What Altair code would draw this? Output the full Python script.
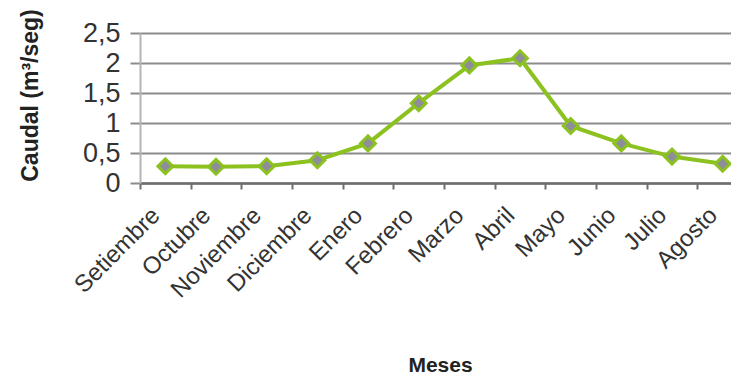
import altair as alt
import pandas as pd

meses = ["Setiembre", "Octubre", "Noviembre", "Diciembre", "Enero", "Febrero",
         "Marzo", "Abril", "Mayo", "Junio", "Julio", "Agosto"]
caudal = [0.28, 0.27, 0.28, 0.38, 0.66, 1.33, 1.96, 2.08, 0.95, 0.66, 0.44, 0.32]
y_ticks = [0, 0.5, 1, 1.5, 2, 2.5]

df = pd.DataFrame({"Meses": meses, "Caudal": caudal})

FONT = "Liberation Sans"

x_enc = alt.X(
    "Meses:N",
    sort=meses,
    scale=alt.Scale(type="band", range=[0, 608], paddingInner=0, paddingOuter=0),
    axis=alt.Axis(
        title="Meses",
        titleFont=FONT, titleFontSize=21, titleFontWeight="bold", titleColor="#222222",
        titleX=300, titleY=188, titleBaseline="alphabetic", titleAlign="center",
        labelFont=FONT, labelFontSize=24, labelColor="#333333",
        labelAngle=-45, labelAlign="right", labelBaseline="top", labelPadding=14,
        labelOffset=-18, labelOverlap=False, labelBound=False,
        tickBand="extent", tickSize=6, tickWidth=2, tickColor="#6e6e6e",
        domainColor="#6e6e6e", domainWidth=2.5, grid=False,
    ),
)

y_enc = alt.Y(
    "Caudal:Q",
    scale=alt.Scale(domain=[0, 2.5], nice=False, zero=True),
    axis=alt.Axis(
        title="Caudal (m³/seg)",
        titleFont=FONT, titleFontSize=23, titleFontWeight="bold", titleColor="#222222",
        titleX=-110, titleY=62, titleAlign="center", titleBaseline="middle", titleAngle=-90,
        values=y_ticks,
        labelExpr="replace(format(datum.value, '~g'), '.', ',')",
        labelFont=FONT, labelFontSize=27, labelColor="#333333", labelPadding=10,
        tickSize=10, tickWidth=2, tickColor="#8c8c8c",
        grid=True, gridColor="#8c8c8c", gridWidth=2,
        domainColor="#b4b4b4", domainWidth=2,
    ),
)

line = alt.Chart(df).mark_line(color="#8cc21f", strokeWidth=4).encode(x=x_enc, y=y_enc)
points = alt.Chart(df).mark_point(
    shape="diamond", filled=True, fill="#8e8e9a", stroke="#8cc21f",
    strokeWidth=3, size=220, opacity=1
).encode(x=x_enc, y=y_enc)

chart = (line + points).properties(
    width=591, height=150,
    autosize=alt.AutoSizeParams(type="none"),
    padding={"left": 132, "top": 25, "right": 0, "bottom": 196},
).configure_view(fill="#f0f0f0", stroke=None).configure(background="white")

chart.save("out.html", embed_options={"renderer": "svg", "actions": False})
